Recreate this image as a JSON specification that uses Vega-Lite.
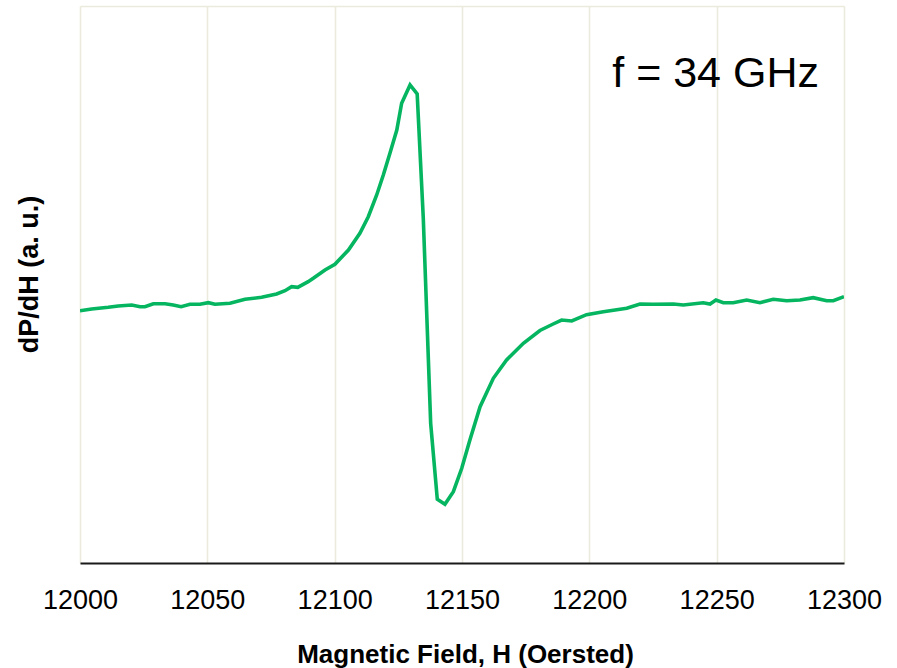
{
  "$schema": "https://vega.github.io/schema/vega-lite/v6.json",
  "width": 764,
  "height": 557,
  "autosize": {"type": "none"},
  "padding": {"left": 80, "top": 6, "right": 53, "bottom": 105},
  "background": "white",
  "config": {
    "view": {"stroke": null},
    "font": "Liberation Sans"
  },
  "datasets": {
    "curve": [
      {"H": 12000.0, "v": 252.3},
      {"H": 12004.6, "v": 254.0},
      {"H": 12011.1, "v": 255.7},
      {"H": 12015.0, "v": 257.0},
      {"H": 12020.3, "v": 258.0},
      {"H": 12023.6, "v": 256.3},
      {"H": 12025.5, "v": 256.3},
      {"H": 12028.8, "v": 259.3},
      {"H": 12033.4, "v": 259.3},
      {"H": 12036.6, "v": 258.0},
      {"H": 12039.7, "v": 256.3},
      {"H": 12043.2, "v": 258.7},
      {"H": 12047.1, "v": 258.7},
      {"H": 12050.4, "v": 260.3},
      {"H": 12053.0, "v": 258.7},
      {"H": 12058.9, "v": 259.7},
      {"H": 12064.8, "v": 263.7},
      {"H": 12071.3, "v": 265.7},
      {"H": 12077.2, "v": 269.0},
      {"H": 12080.5, "v": 272.3},
      {"H": 12083.1, "v": 276.3},
      {"H": 12085.5, "v": 275.7},
      {"H": 12089.6, "v": 281.3},
      {"H": 12091.6, "v": 284.7},
      {"H": 12096.2, "v": 293.0},
      {"H": 12100.1, "v": 298.7},
      {"H": 12105.4, "v": 313.0},
      {"H": 12109.9, "v": 329.7},
      {"H": 12113.2, "v": 346.3},
      {"H": 12116.5, "v": 368.0},
      {"H": 12119.1, "v": 388.0},
      {"H": 12121.7, "v": 409.7},
      {"H": 12124.4, "v": 433.0},
      {"H": 12126.3, "v": 459.7},
      {"H": 12129.6, "v": 478.0},
      {"H": 12132.4, "v": 469.0},
      {"H": 12134.8, "v": 344.7},
      {"H": 12137.7, "v": 139.7},
      {"H": 12140.3, "v": 63.7},
      {"H": 12143.3, "v": 58.7},
      {"H": 12146.6, "v": 71.3},
      {"H": 12149.9, "v": 94.7},
      {"H": 12153.1, "v": 123.0},
      {"H": 12157.1, "v": 156.3},
      {"H": 12162.3, "v": 184.7},
      {"H": 12167.5, "v": 203.0},
      {"H": 12174.1, "v": 219.7},
      {"H": 12180.6, "v": 232.5},
      {"H": 12185.8, "v": 239.0},
      {"H": 12189.1, "v": 243.0},
      {"H": 12193.1, "v": 242.0},
      {"H": 12198.9, "v": 248.3},
      {"H": 12205.5, "v": 251.3},
      {"H": 12214.7, "v": 254.7},
      {"H": 12219.9, "v": 259.0},
      {"H": 12225.1, "v": 258.7},
      {"H": 12233.0, "v": 259.0},
      {"H": 12236.9, "v": 258.0},
      {"H": 12244.7, "v": 260.3},
      {"H": 12247.4, "v": 259.0},
      {"H": 12249.7, "v": 263.0},
      {"H": 12252.6, "v": 260.3},
      {"H": 12256.5, "v": 260.3},
      {"H": 12261.8, "v": 263.0},
      {"H": 12267.0, "v": 260.3},
      {"H": 12272.2, "v": 263.7},
      {"H": 12277.5, "v": 262.3},
      {"H": 12282.7, "v": 263.0},
      {"H": 12287.9, "v": 265.3},
      {"H": 12293.2, "v": 262.3},
      {"H": 12295.8, "v": 262.3},
      {"H": 12300.0, "v": 266.3}
    ],
    "note": [
      {"H": 12209, "v": 476, "label": "f = 34 GHz"}
    ]
  },
  "layer": [
    {
      "data": {"name": "curve"},
      "mark": {"type": "line", "color": "#05b560", "strokeWidth": 3.6, "strokeJoin": "miter", "clip": true},
      "encoding": {
        "x": {
          "field": "H",
          "type": "quantitative",
          "scale": {"domain": [12000, 12300], "nice": false, "zero": false},
          "axis": {
            "values": [12000, 12050, 12100, 12150, 12200, 12250, 12300],
            "format": "d",
            "grid": true,
            "gridColor": "#ebeadc",
            "gridWidth": 1.6,
            "domain": true,
            "domainColor": "#1a1a1a",
            "domainWidth": 2,
            "ticks": false,
            "labelPadding": 24,
            "labelFont": "Liberation Sans",
            "labelFontSize": 27,
            "labelColor": "#000000",
            "labelFlush": false,
            "labelOverlap": false,
            "title": "Magnetic Field, H (Oersted)",
            "titleFont": "Liberation Sans",
            "titleFontSize": 26,
            "titleFontWeight": "bold",
            "titleColor": "#000000",
            "titleBaseline": "alphabetic",
            "titleAlign": "center",
            "titleX": 385,
            "titleY": 99
          }
        },
        "y": {
          "field": "v",
          "type": "quantitative",
          "scale": {"domain": [0, 557], "nice": false, "zero": false},
          "axis": {
            "values": [557],
            "grid": true,
            "gridColor": "#ebeadc",
            "gridWidth": 1.6,
            "domain": false,
            "ticks": false,
            "labels": false,
            "title": "dP/dH (a. u.)",
            "titleFont": "Liberation Sans",
            "titleFontSize": 27,
            "titleFontWeight": "bold",
            "titleColor": "#000000",
            "titleAngle": -90,
            "titleBaseline": "alphabetic",
            "titleAlign": "center",
            "titleX": -43,
            "titleY": 268
          }
        }
      }
    },
    {
      "data": {"name": "note"},
      "mark": {"type": "text", "align": "left", "baseline": "alphabetic", "font": "Liberation Sans", "fontSize": 43, "color": "#000000"},
      "encoding": {
        "x": {"field": "H", "type": "quantitative"},
        "y": {"field": "v", "type": "quantitative"},
        "text": {"field": "label"}
      }
    }
  ]
}
